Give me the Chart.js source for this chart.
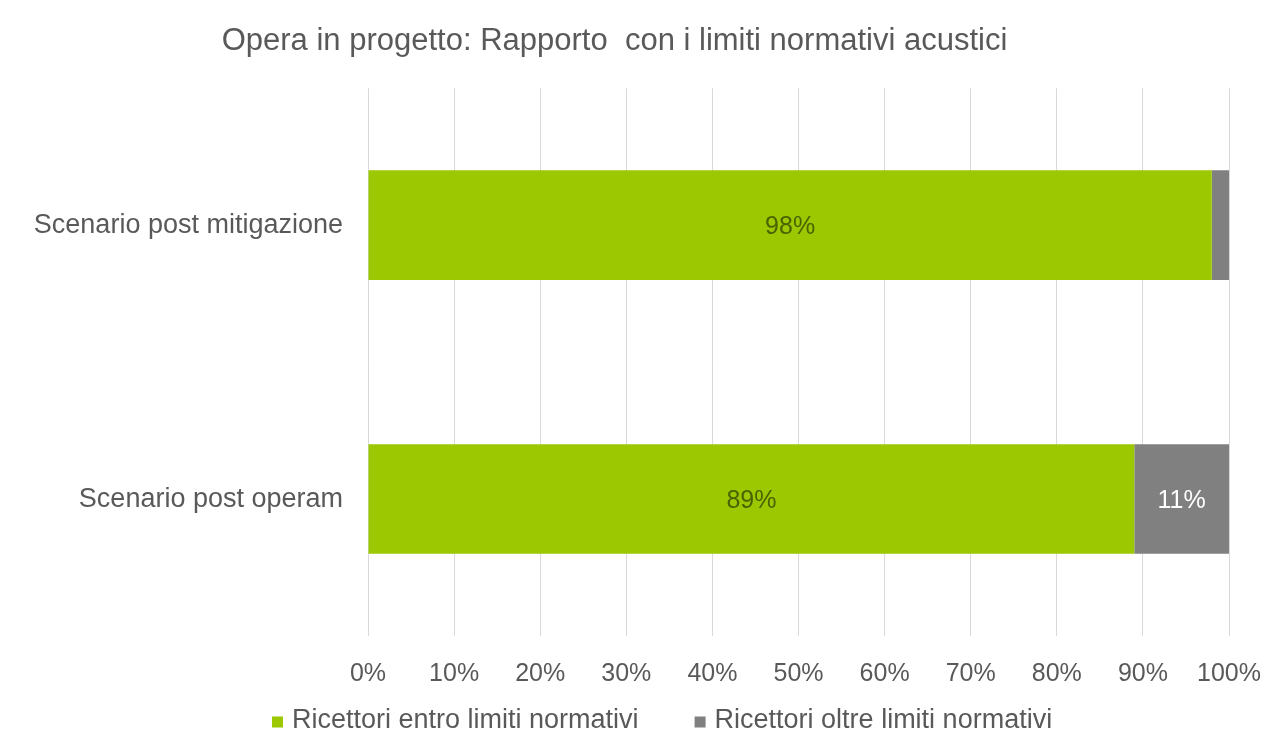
<!DOCTYPE html>
<html>
<head>
<meta charset="utf-8">
<script src="https://cdn.jsdelivr.net/npm/chart.js@4/dist/chart.umd.min.js"></script>
<style>
  html, body { margin: 0; padding: 0; background: #ffffff; }
  #wrap { width: 1273px; height: 741px; position: relative; }
</style>
</head>
<body>
<div id="wrap"><canvas id="c"></canvas></div>
<script>
const titleText = "Opera in progetto: Rapporto  con i limiti normativi acustici";
const categories = ["Scenario post mitigazione", "Scenario post operam"];
const seriesNames = ["Ricettori entro limiti normativi", "Ricettori oltre limiti normativi"];
const withinLimits = [98, 89];
const beyondLimits = [2, 11];
const tickValues = [0, 10, 20, 30, 40, 50, 60, 70, 80, 90, 100];

const FONT = "'Liberation Sans', Arial, sans-serif";
const TEXT = "#595959";

const labelPlugin = {
  id: 'barLabels',
  afterDatasetsDraw(chart) {
    const ctx = chart.ctx;
    const colors = ['#4a6300', '#ffffff'];
    chart.data.datasets.forEach((ds, di) => {
      const meta = chart.getDatasetMeta(di);
      meta.data.forEach((el, i) => {
        const v = ds.data[i];
        if (v < 5) return;
        const p = el.getProps(['x', 'y', 'base'], true);
        const cx = (p.x + p.base) / 2;
        ctx.save();
        ctx.font = "25px " + FONT;
        ctx.fillStyle = colors[di];
        ctx.textAlign = 'center';
        ctx.textBaseline = 'middle';
        ctx.fillText(v + '%', cx, p.y + 2);
        ctx.restore();
      });
    });
  }
};

// Legend drawn below the axis, items taken from the datasets
const legendPlugin = {
  id: 'bottomLegend',
  afterDraw(chart) {
    const ctx = chart.ctx;
    const box = 11, boxGap = 9, itemGap = 56;
    const cy = 721;
    let x = 272;
    ctx.save();
    ctx.font = "27px " + FONT;
    ctx.textBaseline = 'middle';
    ctx.textAlign = 'left';
    chart.data.datasets.forEach(ds => {
      ctx.fillStyle = ds.backgroundColor;
      ctx.fillRect(x, cy - box / 2 + 1, box, box);
      x += box + boxGap;
      ctx.fillStyle = TEXT;
      ctx.fillText(ds.label, x, cy);
      x += ctx.measureText(ds.label).width + itemGap;
    });
    ctx.restore();
  }
};

new Chart(document.getElementById('c'), {
  type: 'bar',
  data: {
    labels: categories,
    datasets: [
      { label: seriesNames[0], data: withinLimits, backgroundColor: '#9bc800', borderWidth: 0,
        barPercentage: 0.4, categoryPercentage: 1.0 },
      { label: seriesNames[1], data: beyondLimits, backgroundColor: '#808080', borderWidth: 0,
        barPercentage: 0.4, categoryPercentage: 1.0 }
    ]
  },
  options: {
    indexAxis: 'y',
    responsive: true,
    maintainAspectRatio: false,
    animation: false,
    devicePixelRatio: 1,
    layout: { padding: { left: 0, right: 44, top: 0, bottom: 47 } },
    plugins: {
      title: {
        display: true, text: titleText, color: TEXT,
        font: { family: FONT, size: 31, weight: 'normal' },
        padding: { top: 23, bottom: 28 }
      },
      legend: { display: false },
      tooltip: { enabled: false }
    },
    scales: {
      x: {
        stacked: true, min: 0, max: 100,
        afterBuildTicks(scale) { scale.ticks = tickValues.map(v => ({ value: v })); },
        ticks: { color: TEXT, font: { family: FONT, size: 25 }, padding: 23,
                 callback: v => v + '%', maxRotation: 0, autoSkip: false },
        grid: { color: '#d9d9d9', lineWidth: 1, drawTicks: false },
        border: { display: false },
        afterFit(scale) { scale.height = 58; scale.paddingLeft = 0; scale.paddingRight = 0; }
      },
      y: {
        stacked: true,
        ticks: { color: TEXT, font: { family: FONT, size: 27 }, padding: 25 },
        grid: { display: false, drawTicks: false },
        border: { display: false },
        afterFit(scale) { scale.width = 368; }
      }
    }
  },
  plugins: [labelPlugin, legendPlugin]
});
</script>
</body>
</html>
